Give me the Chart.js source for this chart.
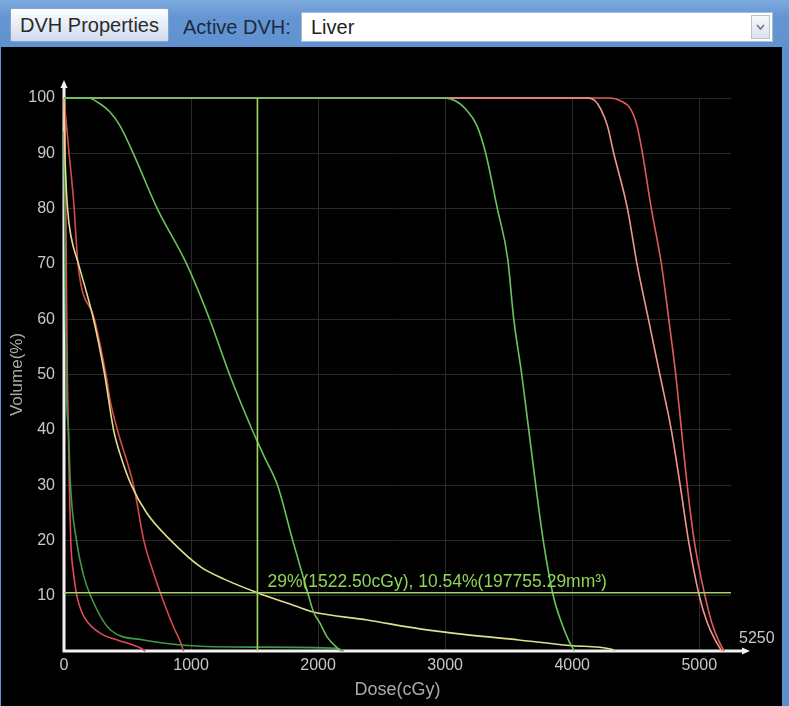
<!DOCTYPE html>
<html>
<head>
<meta charset="utf-8">
<title>DVH</title>
<script src="https://cdn.jsdelivr.net/npm/chart.js@4.4.1/dist/chart.umd.min.js"></script>
<style>
body{margin:0;width:789px;height:706px;overflow:hidden;background:#5a90d0;font-family:"Liberation Sans",Arial,sans-serif;position:relative;}
#toolbar{position:absolute;left:0;top:0;width:789px;height:47px;background:linear-gradient(#7eabde,#6596d2 35%,#5f92d0);}
#btn_props{position:absolute;left:10px;top:8px;width:157px;height:32px;border:1px solid #8aa2c4;border-radius:2px;background:linear-gradient(#fdfeff,#e3ebf6 55%,#cfdcee);color:#2b2b2b;font-size:20px;line-height:32px;text-align:center;}
#lbl_active{position:absolute;left:183px;top:12px;color:#1b2a44;font-size:20px;line-height:30px;}
#sel_dvh{position:absolute;left:301px;top:12px;width:470px;height:28px;background:#fff;border:1px solid #a9bdd6;}
#sel_text{position:absolute;left:9px;top:0;line-height:29px;font-size:20px;color:#222;}
#sel_arrow{position:absolute;right:2px;top:2px;width:17px;height:22px;border:1px solid #b5c2d2;background:linear-gradient(#f6f8fb,#dce3ec);}
#panel{position:absolute;left:1px;top:47px;width:781px;height:659px;background:#000;}
</style>
</head>
<body>
<div id="toolbar">
	<div id="btn_props">DVH Properties</div>
	<div id="lbl_active">Active DVH:</div>
	<div id="sel_dvh">
		<div id="sel_text">Liver</div>
		<div id="sel_arrow"><svg width="17" height="22"><polyline points="5,9 8.5,13 12,9" fill="none" stroke="#6a7a8c" stroke-width="1.6"/></svg></div>
	</div>
</div>
<div id="panel"><canvas id="canvas" width="781" height="659"></canvas></div>

<script>
var fontFamily = '"Liberation Sans", Arial, sans-serif';

// axes
var doseMax = 5250;
var doseTicks = [0, 1000, 2000, 3000, 4000, 5000];
var volTicks = [0, 10, 20, 30, 40, 50, 60, 70, 80, 90, 100];

// cursor
var cursorDose = 1522.5;
var cursorVol = 10.54;
var cursorText = "29%(1522.50cGy), 10.54%(197755.29mm³)";

// DVH curves (dose cGy / volume %)
var greenDDose = [0, 2988, 3080, 3161, 3250, 3319, 3411, 3492, 3540, 3603, 3658, 3713, 3772, 3851, 3918, 3970, 4017];
var greenDVol  = [100, 100, 99.5, 98, 95, 90, 80, 71, 60, 50, 40, 30, 20, 10, 5, 2, 0];

var greenCDose = [0, 190, 280, 360, 440, 545, 734, 965, 1146, 1303, 1481, 1579, 1680, 1800, 1925, 1965, 2016, 2072, 2177];
var greenCVol  = [100, 100, 99, 97.5, 95, 90, 80, 70, 60, 50, 40, 35, 30, 20, 10, 7, 5, 2.5, 0];

var liverDose = [0, 3, 7, 28, 55, 114, 232, 320, 390, 450, 530, 650, 840, 1075, 1260, 1522.5, 1840, 1954, 2387, 2800, 3146, 3579, 3978, 4311, 4340];
var liverVol  = [100, 95, 90, 80, 75, 70, 60, 50, 40, 35, 30, 25, 20, 15.2, 13, 10.54, 8, 7.1, 5.6, 4, 3, 2, 1, 0.3, 0];

var greenADose = [0, 5, 12, 22, 35, 51, 98, 150, 209, 366, 626, 972, 1500, 2150, 2200];
var greenAVol  = [94, 80, 60, 45, 40, 30, 20, 14, 10, 3.8, 2, 1, 0.7, 0.5, 0];

var redBDose = [0, 20, 40, 77, 110, 240, 330, 366, 420, 550, 628, 706, 760, 863, 910, 941];
var redBVol  = [100, 95, 90, 81, 70, 60, 50, 45, 40, 29.7, 20, 14, 10.4, 4.3, 2, 0];

var redADose = [0, 5, 12, 18, 22, 26, 34, 42, 53, 75, 101, 140, 193, 300, 420, 605, 640];
var redAVol  = [100, 95, 85, 70, 60, 50, 40, 30, 20, 14, 10, 7, 5, 3, 2, 0.5, 0];

var redInDose = [0, 4120, 4180, 4225, 4277, 4327, 4435, 4510, 4600, 4690, 4780, 4850, 4915, 5000, 5065, 5125, 5178];
var redOutDose = [0, 4300, 4380, 4460, 4510, 4553, 4623, 4702, 4760, 4815, 4860, 4905, 4960, 5045, 5100, 5150, 5195];
var redVol = [100, 100, 99.5, 98, 95, 90, 80, 70, 60, 50, 40, 30, 20, 10, 5, 2, 0];

function toPoints(dose, vol){
	var pts = [];
	for(var i = 0; i < dose.length; i++){
		pts.push({x: dose[i], y: vol[i]});
	}
	return pts;
}

function curve(dose, vol, color){
	return {
		data: toPoints(dose, vol),
		borderColor: color,
		borderWidth: 1.6,
		pointRadius: 0,
		cubicInterpolationMode: 'monotone',
		fill: false,
		clip: false
	};
}

function straight(dose, vol, color){
	return {
		data: toPoints(dose, vol),
		borderColor: color,
		borderWidth: 1.6,
		pointRadius: 0,
		tension: 0,
		fill: false
	};
}

// first dataset is drawn on top
var datasets = [
	straight([cursorDose, cursorDose], [0, 100], '#a6d466'),
	straight([0, doseMax], [cursorVol, cursorVol], '#a6d466'),
	curve(greenDDose, greenDVol, '#68c45c'),
	curve(greenCDose, greenCVol, '#6cc25a'),
	curve(liverDose, liverVol, '#e0df8c'),
	curve(greenADose, greenAVol, '#3f9a46'),
	curve(redBDose, redBVol, '#d84a4a'),
	curve(redADose, redAVol, '#e04a5a'),
	curve(redInDose, redVol, '#f0968a'),
	curve(redOutDose, redVol, '#e05a5a')
];

// white axes with arrow heads, under the curves
var axesPlugin = {
	id: 'dvhAxes',
	beforeDatasetsDraw: function(chart){
		var ctx = chart.ctx;
		var xs = chart.scales.x, ys = chart.scales.y;
		var x0 = xs.getPixelForValue(0);
		var y0 = ys.getPixelForValue(0);
		var top = chart.chartArea.top - 18;
		var right = chart.chartArea.right + 19;
		ctx.save();
		ctx.strokeStyle = '#f2f2f2';
		ctx.fillStyle = '#f2f2f2';
		ctx.lineWidth = 3;
		ctx.beginPath();
		ctx.moveTo(x0, y0 + 1.5);
		ctx.lineTo(x0, top + 4);
		ctx.moveTo(x0 - 1.5, y0);
		ctx.lineTo(right - 4, y0);
		ctx.stroke();
		ctx.beginPath();
		ctx.moveTo(x0, top);
		ctx.lineTo(x0 - 3.5, top + 8);
		ctx.lineTo(x0 + 3.5, top + 8);
		ctx.closePath();
		ctx.moveTo(right, y0);
		ctx.lineTo(right - 8, y0 - 3.5);
		ctx.lineTo(right - 8, y0 + 3.5);
		ctx.closePath();
		ctx.fill();
		ctx.restore();
	},
	afterDatasetsDraw: function(chart){
		var ctx = chart.ctx;
		var xs = chart.scales.x, ys = chart.scales.y;
		ctx.save();
		ctx.font = '17.5px ' + fontFamily;
		ctx.fillStyle = '#8fd455';
		ctx.textAlign = 'left';
		ctx.textBaseline = 'bottom';
		ctx.fillText(cursorText, xs.getPixelForValue(cursorDose) + 10, ys.getPixelForValue(cursorVol) - 2);

		ctx.font = '16px ' + fontFamily;
		ctx.fillStyle = '#c8c8c8';
		ctx.textBaseline = 'middle';
		ctx.fillText(String(doseMax), xs.getPixelForValue(doseMax) + 8, ys.getPixelForValue(0) - 12);
		ctx.restore();
	}
};

var ctx = document.getElementById("canvas").getContext("2d");
var chart = new Chart(ctx, {
	type: 'line',
	data: {datasets: datasets},
	plugins: [axesPlugin],
	options: {
		responsive: false,
		animation: false,
		layout: {padding: {left: 0, top: 51, right: 51, bottom: 0}},
		plugins: {legend: {display: false}, tooltip: {enabled: false}},
		scales: {
			x: {
				type: 'linear',
				min: 0,
				max: doseMax,
				afterBuildTicks: function(s){ s.ticks = doseTicks.map(function(v){ return {value: v}; }); },
				afterFit: function(s){ s.height = 55; },
				grid: {color: '#2a2a2a', drawTicks: false},
				border: {display: false},
				ticks: {color: '#c8c8c8', font: {size: 16, family: fontFamily}, padding: 5, maxRotation: 0, autoSkip: false,
					callback: function(v){ return String(v); }},
				title: {display: true, text: 'Dose(cGy)', color: '#aaaaaa', font: {size: 18, family: fontFamily}, padding: {top: 0, bottom: 5}}
			},
			y: {
				type: 'linear',
				min: 0,
				max: 100,
				afterBuildTicks: function(s){ s.ticks = volTicks.map(function(v){ return {value: v}; }); },
				afterFit: function(s){ s.width = 63; },
				grid: {color: '#2a2a2a', drawTicks: false},
				border: {display: false},
				ticks: {color: '#c8c8c8', font: {size: 16, family: fontFamily}, padding: 9,
					callback: function(v){ return v === 0 ? '' : String(v); }},
				title: {display: true, text: 'Volume(%)', color: '#aaaaaa', font: {size: 17, family: fontFamily}, padding: {top: 6, bottom: 0}}
			}
		}
	}
});
</script>
</body>
</html>
